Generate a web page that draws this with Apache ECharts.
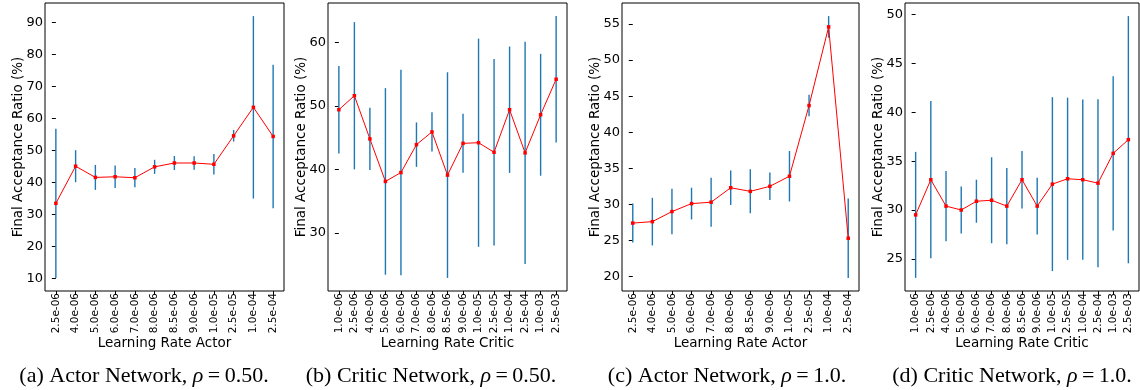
<!DOCTYPE html>
<html>
<head>
<meta charset="utf-8">
<script src="https://cdn.jsdelivr.net/npm/echarts@6/dist/echarts.min.js"></script>
<style>
html,body{margin:0;padding:0;background:#fff;}
#c{width:1140px;height:390px;}
</style>
</head>
<body>
<div id="c"></div>
<script>
// ---- data ----
const catsActor = ['2.5e-06','4.0e-06','5.0e-06','6.0e-06','7.0e-06','8.0e-06','8.5e-06','9.0e-06','1.0e-05','2.5e-05','1.0e-04','2.5e-04'];
const catsCritic = ['1.0e-06','2.5e-06','4.0e-06','5.0e-06','6.0e-06','7.0e-06','8.0e-06','8.5e-06','9.0e-06','1.0e-05','2.5e-05','1.0e-04','2.5e-04','1.0e-03','2.5e-03'];

const meanA = [33.4, 45.0, 41.5, 41.7, 41.4, 44.8, 46.0, 46.0, 45.6, 54.5, 63.4, 54.3];
const errA  = [23.3, 5.0, 3.9, 3.5, 3.0, 2.2, 2.2, 2.1, 3.2, 1.8, 28.5, 22.4];

const meanB = [49.4, 51.6, 44.8, 38.1, 39.5, 43.9, 45.9, 39.1, 44.1, 44.2, 42.7, 49.4, 42.6, 48.6, 54.2];
const errB  = [6.9, 11.6, 4.9, 14.7, 16.2, 3.5, 3.1, 16.2, 4.65, 16.4, 14.7, 9.95, 17.5, 9.6, 9.95];

const meanC = [27.4, 27.6, 29.0, 30.1, 30.3, 32.3, 31.8, 32.5, 33.9, 43.7, 54.6, 25.3];
const errC  = [2.7, 3.3, 3.15, 2.2, 3.4, 2.4, 3.05, 1.9, 3.5, 1.5, 1.5, 5.5];

const meanD = [29.5, 33.1, 30.4, 30.0, 30.9, 31.0, 30.4, 33.1, 30.4, 32.65, 33.2, 33.1, 32.75, 35.8, 37.2];
const errD  = [6.45, 8.05, 3.6, 2.4, 2.2, 4.4, 3.9, 2.95, 2.9, 8.9, 8.3, 8.2, 8.6, 7.9, 12.65];

const ticksA = [10, 20, 30, 40, 50, 60, 70, 80, 90];
const ticksB = [30, 40, 50, 60];
const ticksC = [20, 25, 30, 35, 40, 45, 50, 55];
const ticksD = [25, 30, 35, 40, 45, 50];

const xNames = ['Learning Rate Actor', 'Learning Rate Critic', 'Learning Rate Actor', 'Learning Rate Critic'];
const yName = 'Final Acceptance Ratio (%)';
const captions = [
  ['(a) Actor Network, ', '0.50.'],
  ['(b) Critic Network, ', '0.50.'],
  ['(c) Actor Network, ', '1.0.'],
  ['(d) Critic Network, ', '1.0.']
];

// ---- layout ----
const panels = [
  {cats: catsActor,  mean: meanA, err: errA, ticks: ticksA, left: 45,  width: 239, cap: 144},
  {cats: catsCritic, mean: meanB, err: errB, ticks: ticksB, left: 328, width: 239, cap: 431},
  {cats: catsActor,  mean: meanC, err: errC, ticks: ticksC, left: 622, width: 237, cap: 727},
  {cats: catsCritic, mean: meanD, err: errD, ticks: ticksD, left: 905, width: 234, cap: 1012}
];

const grids = [], xAxes = [], yAxes = [], series = [], graphics = [];
const FONT = 'DejaVu Sans';

panels.forEach((p, k) => {
  const n = p.cats.length;
  let lo = Infinity, hi = -Infinity;
  p.mean.forEach((m, i) => { lo = Math.min(lo, m - p.err[i]); hi = Math.max(hi, m + p.err[i]); });
  const pad = 0.05 * (hi - lo);
  grids.push({left: p.left, top: 3, width: p.width, height: 288, show: true, borderColor: '#000', borderWidth: 1, backgroundColor: 'transparent'});
  const idx = p.cats.map((c, i) => i);
  xAxes.push({
    type: 'value', gridIndex: k, min: -0.05 * (n - 1), max: (n - 1) * 1.05,
    name: xNames[k], nameLocation: 'middle', nameGap: 45, nameMoveOverlap: false,
    nameTextStyle: {fontFamily: FONT, fontSize: 13.5, color: '#000'},
    axisLine: {show: false}, splitLine: {show: false},
    axisTick: {show: true, customValues: idx, length: 4, lineStyle: {color: '#000'}},
    axisLabel: {show: true, customValues: idx, rotate: 90, margin: 2, fontFamily: FONT, fontSize: 10.5, color: '#000',
      formatter: v => p.cats[Math.round(v)]}
  });
  yAxes.push({
    type: 'value', gridIndex: k, min: lo - pad, max: hi + pad,
    name: yName, nameLocation: 'middle', nameGap: 20, nameMoveOverlap: false,
    nameTextStyle: {fontFamily: FONT, fontSize: 13.5, color: '#000'},
    axisLine: {show: false}, splitLine: {show: false},
    axisTick: {show: true, customValues: p.ticks, length: 4, lineStyle: {color: '#000'}},
    axisLabel: {show: true, customValues: p.ticks, margin: 2, fontFamily: FONT, fontSize: 13, color: '#000'}
  });
  series.push({
    type: 'custom', xAxisIndex: k, yAxisIndex: k,
    data: p.mean.map((m, i) => [i, m - p.err[i], m + p.err[i]]),
    encode: {x: 0, y: [1, 2]},
    renderItem: (params, api) => {
      const a = api.coord([api.value(0), api.value(1)]);
      const b = api.coord([api.value(0), api.value(2)]);
      return {type: 'line', shape: {x1: a[0], y1: a[1], x2: b[0], y2: b[1]},
        style: {stroke: '#1f77b4', lineWidth: 1.4}};
    },
    z: 2
  });
  series.push({
    type: 'line', xAxisIndex: k, yAxisIndex: k,
    data: p.mean.map((m, i) => [i, m]),
    lineStyle: {color: '#ff0000', width: 1},
    itemStyle: {color: '#ff0000'},
    symbol: 'rect', symbolSize: 3.5, showSymbol: true,
    animation: false, z: 3
  });
  graphics.push({
    type: 'text', x: p.cap, y: 376,
    style: {
      text: captions[k][0] + '{i|ρ}\u2009=\u2009' + captions[k][1],
      font: '22px "Liberation Serif"', fill: '#000',
      textAlign: 'center', textVerticalAlign: 'middle',
      rich: {i: {fontStyle: 'italic', fontFamily: 'Liberation Serif', fontSize: 22}}
    }
  });
});

const chart = echarts.init(document.getElementById('c'), null, {renderer: 'canvas'});
chart.setOption({
  animation: false,
  backgroundColor: '#fff',
  grid: grids, xAxis: xAxes, yAxis: yAxes, series: series, graphic: graphics
});
</script>
</body>
</html>
